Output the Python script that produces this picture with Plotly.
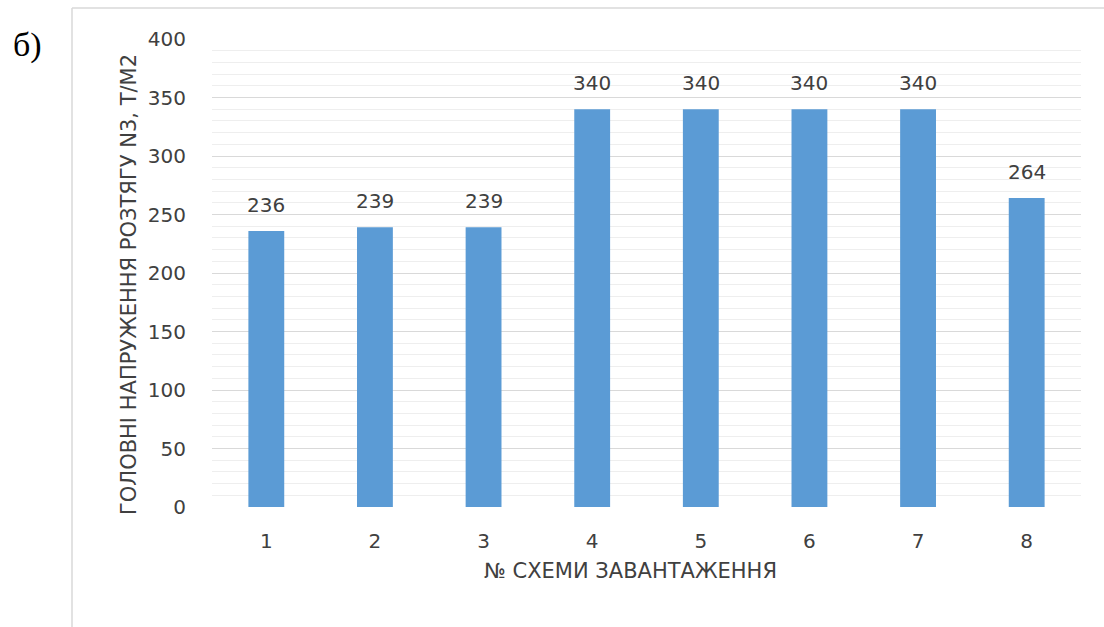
import plotly.graph_objects as go

# Loading schemes and principal tensile stress N3 (t/m2)
schemes = ["1", "2", "3", "4", "5", "6", "7", "8"]
stress = [236, 239, 239, 340, 340, 340, 340, 264]
y_ticks = [0, 50, 100, 150, 200, 250, 300, 350, 400]

BAR = "#5b9bd5"
TXT = "#404040"
FONT = "DejaVu Sans"
FS = 20        # tick and value labels
FS_TITLE = 21  # axis titles

# plot area in pixels (page is 1104 x 627)
W, H = 1104, 627
L, R, T, B = 212, 1081, 39, 507


def px(x):
    return (x - L) / (R - L)


def py(y):
    return (B - y) / (B - T)


fig = go.Figure()
fig.add_trace(go.Bar(
    x=schemes, y=stress,
    marker=dict(color=BAR, line=dict(width=0)),
    width=0.33,
    hoverinfo="x+y",
))

# value labels above the bars (category index positions)
for i, v in enumerate(stress):
    fig.add_annotation(x=i, y=v, text=str(v), showarrow=False,
                       yanchor="bottom", yshift=12,
                       font=dict(family=FONT, size=FS, color=TXT))

fig.update_layout(
    width=W, height=H,
    margin=dict(l=L, r=W - R, t=T, b=H - B, pad=0),
    paper_bgcolor="white", plot_bgcolor="white",
    showlegend=False,
    xaxis=dict(
        type="category", range=[-0.5, len(schemes) - 0.5],
        showline=False, ticks="",
        showgrid=False, zeroline=False,
        ticklabelstandoff=20,
        tickfont=dict(family=FONT, size=FS, color=TXT),
    ),
    yaxis=dict(
        range=[0, 400], tickvals=y_ticks,
        showgrid=True, gridcolor="#d9d9d9", gridwidth=1.3,
        zeroline=False, showline=False, ticks="",
        ticklabelstandoff=25,
        tickfont=dict(family=FONT, size=FS, color=TXT),
        minor=dict(dtick=10, showgrid=True, gridcolor="#eeeeee", gridwidth=1),
    ),
    shapes=[
        # chart frame
        dict(type="line", xref="paper", yref="paper",
             x0=px(72), x1=px(72), y0=py(8), y1=py(640),
             line=dict(color="#d9d9d9", width=1.5)),
        dict(type="line", xref="paper", yref="paper",
             x0=px(72), x1=px(1110), y0=py(8), y1=py(8),
             line=dict(color="#d9d9d9", width=1.5)),
    ],
)

# axis titles
fig.add_annotation(xref="paper", yref="paper", x=px(630), y=py(571),
                   text="№ СХЕМИ ЗАВАНТАЖЕННЯ", showarrow=False,
                   xanchor="center", yanchor="middle",
                   font=dict(family=FONT, size=FS_TITLE, color=TXT))
fig.add_annotation(xref="paper", yref="paper", x=px(129), y=py(285),
                   text="ГОЛОВНІ НАПРУЖЕННЯ РОЗТЯГУ N3, Т/М2", showarrow=False,
                   textangle=-90, xanchor="center", yanchor="middle",
                   font=dict(family=FONT, size=FS_TITLE, color=TXT))
# panel letter
fig.add_annotation(xref="paper", yref="paper", x=px(27), y=py(45),
                   text="б)", showarrow=False,
                   xanchor="center", yanchor="middle",
                   font=dict(family="Liberation Serif", size=34, color="#000000"))

fig.write_html("out.html")
